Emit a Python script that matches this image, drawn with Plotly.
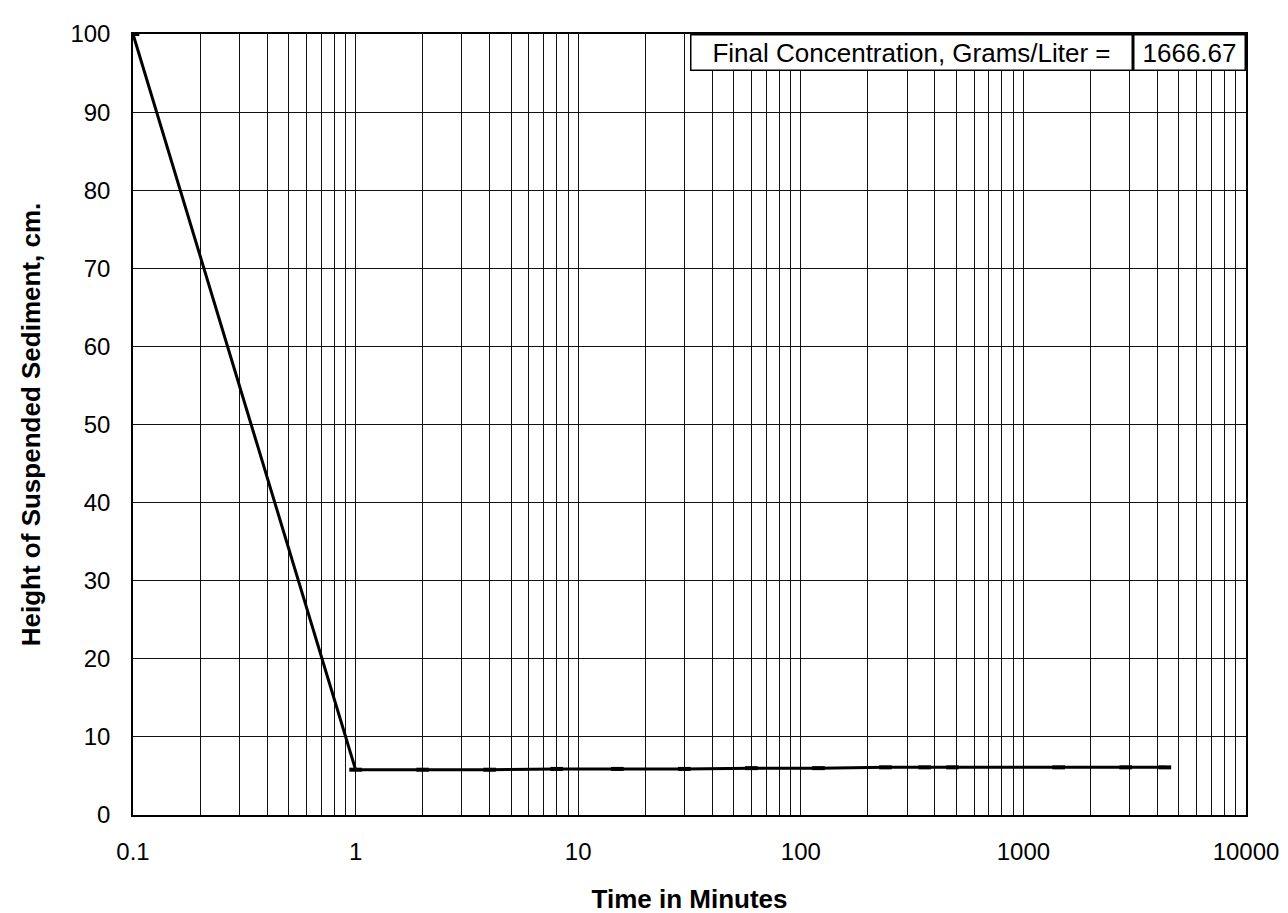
import plotly.graph_objects as go

# Data
time_min = [0.1, 1, 2, 4, 8, 15, 30, 60, 120, 240, 360, 480, 1440, 2880, 4320]
height_cm = [100, 5.8, 5.8, 5.8, 5.9, 5.9, 5.9, 6.0, 6.0, 6.1, 6.1, 6.1, 6.1, 6.1, 6.1]

x_tickvals = [0.1, 1, 10, 100, 1000, 10000]
x_ticktext = ["0.1", "1", "10", "100", "1000", "10000"]
y_tickvals = [0, 10, 20, 30, 40, 50, 60, 70, 80, 90, 100]

label_text = "Final Concentration, Grams/Liter ="
value_text = "1666.67"

FONT = "Liberation Sans, Arial, sans-serif"
GRID = "#111111"

L, R, T, B = 125, 50, 16, 100
W, H = 1288, 913
plot_w = W - L - R

fig = go.Figure()
fig.add_trace(go.Scatter(
    x=time_min, y=height_cm, mode="lines+markers",
    line=dict(color="black", width=3),
    marker=dict(symbol="line-ew", size=9, line=dict(color="black", width=4)),
    showlegend=False,
))

fig.update_layout(
    width=W, height=H,
    margin=dict(l=L, r=R, t=T, b=B),
    paper_bgcolor="white", plot_bgcolor="white",
    font=dict(family=FONT, color="black", size=24),
    xaxis=dict(
        type="log", range=[-1, 4],
        tickvals=x_tickvals, ticktext=x_ticktext,
        showgrid=True, gridcolor=GRID, gridwidth=1.2,
        minor=dict(dtick="D1", showgrid=True, gridcolor=GRID, gridwidth=1.2, ticks=""),
        showline=True, linecolor="black", linewidth=1.5, mirror=True,
        ticks="", tickfont=dict(size=24), ticklabelstandoff=14,
        title=dict(text="<b>Time in Minutes</b>", font=dict(size=26), standoff=26),
        zeroline=False,
    ),
    yaxis=dict(
        range=[0, 100], tickvals=y_tickvals,
        showgrid=True, gridcolor=GRID, gridwidth=1.2,
        showline=True, linecolor="black", linewidth=1.5, mirror=True,
        ticks="", tickfont=dict(size=24), ticklabelstandoff=16,
        title=dict(text="<b>Height of Suspended Sediment, cm.</b>", font=dict(size=26), standoff=22),
        zeroline=False,
    ),
)

divider = (1125 - L) / plot_w
fig.add_annotation(
    xref="paper", yref="paper", x=divider, y=1, xanchor="right", yanchor="top",
    text=label_text, showarrow=False, align="center",
    font=dict(size=26, family=FONT), bgcolor="white",
    bordercolor="black", borderwidth=1.5, borderpad=2, width=436,
)
fig.add_annotation(
    xref="paper", yref="paper", x=1, y=1, xanchor="right", yanchor="top",
    text=value_text, showarrow=False, align="center",
    font=dict(size=26, family=FONT), bgcolor="white",
    bordercolor="black", borderwidth=1.5, borderpad=2, width=106,
)

fig.write_html("out.html")
